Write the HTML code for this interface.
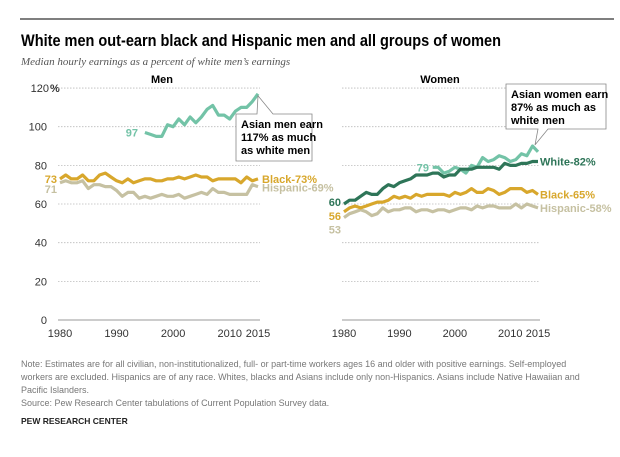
<!DOCTYPE html>
<html><head><meta charset="utf-8"><style>
body{margin:0;background:#fff;width:620px;height:452px;overflow:hidden;font-family:"Liberation Sans",sans-serif}
</style></head><body>
<svg id="c" width="620" height="452" xmlns="http://www.w3.org/2000/svg">
<line x1="20" y1="19" x2="614" y2="19" stroke="#555" stroke-width="1.5"/>
<text x="21" y="46" font-size="16.5" font-weight="bold" fill="#000" textLength="480" lengthAdjust="spacingAndGlyphs">White men out-earn black and Hispanic men and all groups of women</text>
<text x="21" y="65" font-family="Liberation Serif" font-style="italic" font-size="11" fill="#555">Median hourly earnings as a percent of white men’s earnings</text>
<g id="plot"></g>
<g font-size="9" fill="#777">
<text x="21" y="367">Note: Estimates are for all civilian, non-institutionalized, full- or part-time workers ages 16 and older with positive earnings. Self-employed</text>
<text x="21" y="380">workers are excluded. Hispanics are of any race. Whites, blacks and Asians include only non-Hispanics. Asians include Native Hawaiian and</text>
<text x="21" y="393">Pacific Islanders.</text>
<text x="21" y="406">Source: Pew Research Center tabulations of Current Population Survey data.</text>
</g>
<text x="21" y="424" font-size="8.5" font-weight="bold" fill="#222">PEW RESEARCH CENTER</text>
</svg>
<script>
const yTicks=[0,20,40,60,80,100,120];
const xTicks=[1980,1990,2000,2010,2015];
const menBlack=[73,75,73,73,75,72,72,75,76,74,72,71,73,71,72,73,73,72,72,73,73,74,73,74,75,74,74,72,73,73,73,73,71,74,72,73];
const menHisp=[71,72,71,71,72,68,70,70,69,69,67,64,66,66,63,64,63,64,65,64,64,65,63,64,65,66,65,68,66,66,65,65,65,65,70,69];
const menAsianStart=1995;
const menAsian=[97,96,95,95,101,100,104,101,105,102,105,109,111,106,106,104,108,110,110,113,117];
const womWhite=[60,62,62,64,66,65,65,68,70,69,71,72,73,75,75,75,76,76,74,75,75,78,78,78,79,79,79,79,78,81,80,80,81,81,82,82];
const womBlack=[56,58,59,58,59,60,61,61,62,64,63,64,63,65,64,65,65,65,65,64,66,65,66,68,66,66,68,67,65,66,68,68,68,66,67,65];
const womHisp=[53,55,56,57,56,54,55,58,56,57,57,58,58,56,57,57,56,57,57,56,57,58,58,57,59,58,59,59,58,58,58,60,58,60,59,58];
const womAsianStart=1996;
const womAsian=[79,79,76,77,79,78,76,80,79,84,82,83,85,84,82,83,86,85,90,87];

const NS="http://www.w3.org/2000/svg";
const g=document.getElementById('plot');
const y=v=>320-v*1.933;
function mk(t,a,txt){const e=document.createElementNS(NS,t);for(const k in a)e.setAttribute(k,a[k]);if(txt!=null)e.textContent=txt;g.appendChild(e);return e;}
function panel(x0,x1,name){
  const x=yr=>x0+(yr-1980)*(x1-x0)/35;
  yTicks.forEach(v=>{
    const l=mk('line',{x1:x0-2,x2:x1+2,y1:y(v),y2:y(v),stroke:v===0?'#999':'#bbb','stroke-width':v===0?1:0.8,'stroke-dasharray':v===0?'':'1.5,1.5'});
    
    
  });
  xTicks.forEach(t=>{
    const e=mk('text',{x:x(t),y:337,'font-size':11,fill:'#333','text-anchor':'middle'},String(t));
    
    
  });
  return x;
}
function line(x,arr,start,col,name){
  const d=arr.map((v,i)=>(i?'L':'M')+x(start+i).toFixed(1)+','+y(v).toFixed(1)).join('');
  const p=mk('path',{d:d,fill:'none',stroke:col,'stroke-width':3.2,'stroke-linejoin':'round'});
  
  
}
function lab(x,yy,t,col,name,anchor){
  const e=mk('text',{x:x,y:yy,'font-size':11,'font-weight':'bold',fill:col,'text-anchor':anchor||'start'},t);
  
  
}
const cB='#d8a72c',cH='#c6c1a2',cA='#73c3a7',cW='#2e7558';
yTicks.forEach(v=>{
  const e=mk('text',{x:v===120?49:47,y:y(v)+4,'font-size':11,fill:'#333','text-anchor':'end'},String(v));
  
  
});
lab(50,y(120)+4,'%','#333','y-percent-sign');
const xm=panel(60,258,'men');
const xw=panel(344,538,'women');
lab(162,83,'Men','#000','men-panel-title','middle');
lab(440,83,'Women','#000','women-panel-title','middle');
line(xm,menHisp,1980,cH,'men-hispanic-line');
line(xm,menBlack,1980,cB,'men-black-line');
line(xm,menAsian,menAsianStart,cA,'men-asian-line');
line(xw,womHisp,1980,cH,'women-hispanic-line');
line(xw,womBlack,1980,cB,'women-black-line');
line(xw,womAsian,womAsianStart,cA,'women-asian-line');
line(xw,womWhite,1980,cW,'women-white-line');
lab(57,y(73)+4,'73',cB,'men-black-start','end');
lab(57,y(71)+10,'71',cH,'men-hispanic-start','end');
lab(138,y(97)+4,'97',cA,'men-asian-start','end');
lab(262,y(73)+4,'Black-73%',cB,'men-black-end');
lab(262,y(69)+5,'Hispanic-69%',cH,'men-hispanic-end');
lab(341,y(60)+2,'60',cW,'women-white-start','end');
lab(341,y(56)+8,'56',cB,'women-black-start','end');
lab(341,y(53)+16,'53',cH,'women-hispanic-start','end');
lab(429,y(79)+4,'79',cA,'women-asian-start','end');
lab(540,y(82)+4,'White-82%',cW,'women-white-end');
lab(540,y(65)+4,'Black-65%',cB,'women-black-end');
lab(540,y(58)+4,'Hispanic-58%',cH,'women-hispanic-end');
function callout(bx,by,bw,bh,tip,tipBase,lines,name,bottom){
  let d;
  if(!bottom) d=`M${bx},${by}H${tipBase[0]}L${tip[0]},${tip[1]}L${tipBase[1]},${by}H${bx+bw}V${by+bh}H${bx}Z`;
  else d=`M${bx},${by}H${bx+bw}V${by+bh}H${tipBase[1]}L${tip[0]},${tip[1]}L${tipBase[0]},${by+bh}H${bx}Z`;
  const p=mk('path',{d:d,fill:'#fff',stroke:'#888','stroke-width':0.8});
  
  
  lines.forEach((t,i)=>lab(bx+5,by+14+i*13,t,'#000',name+'-line-'+i));
}
callout(236,114,76,47,[258,y(116)],[257,273],['Asian men earn','117% as much','as white men'],'asian-men-callout',false);
callout(506,84,100,45,[535,y(88)-5],[538,548],['Asian women earn','87% as much as','white men'],'asian-women-callout',true);
</script>
</body></html>
